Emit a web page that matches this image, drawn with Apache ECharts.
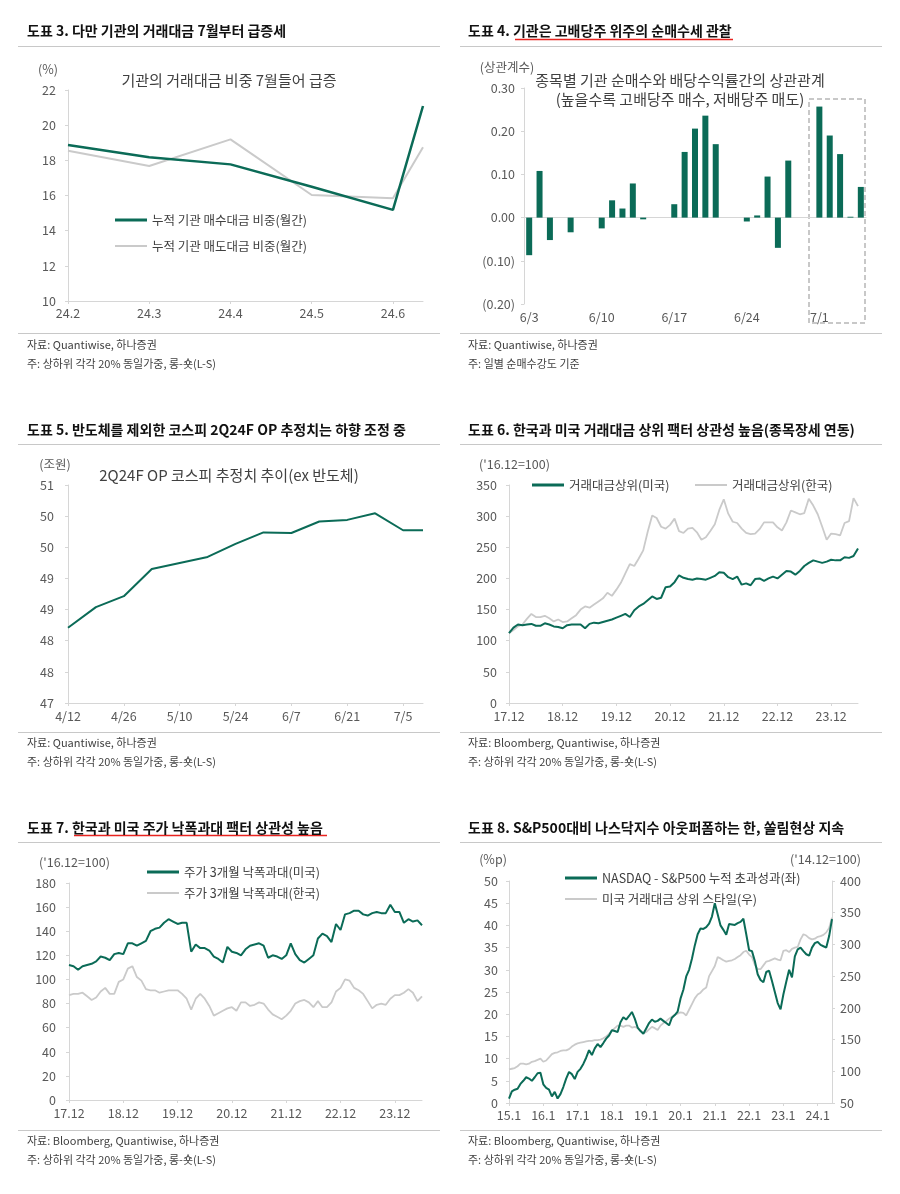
<!DOCTYPE html>
<html><head><meta charset="utf-8">
<script src="https://cdn.jsdelivr.net/npm/echarts@6.0.0/dist/echarts.min.js"></script>
<style>html,body{margin:0;padding:0;background:#fff}#c{width:900px;height:1194px}</style>
</head><body><div id="c"></div><script>
const FONT = "'Noto Sans CJK KR','Noto Sans',sans-serif";
const GREEN = '#0b6b57', GRAY = '#cacaca', AXIS = '#d6d6d6', LABEL = '#595959', TXT = '#404040';

// ---- Panel 3 ----
const p3Ticks = ['24.2','24.3','24.4','24.5','24.6'];
const p3Month = [0, 1, 2, 3, 4, 4.37];
const p3Buy  = [18.87, 18.17, 17.77, 16.5, 15.18, 21.09];
const p3Sell = [18.55, 17.68, 19.19, 16.03, 15.84, 18.74];

// ---- Panel 4 ----
const p4Start = '2024-06-03';
const p4Corr = [-0.087, 0.108, -0.052, null, -0.034, null, null,
  -0.025, 0.040, 0.021, 0.079, -0.004, null, null,
  0.031, 0.152, 0.206, 0.236, 0.170, null, null,
  -0.009, 0.005, 0.095, -0.070, 0.132, null, null,
  0.257, 0.190, 0.147, 0.002, 0.071];

// ---- Panel 5 ----
const p5Ticks = ['4/12','4/26','5/10','5/24','6/7','6/21','7/5'];
const p5Dates = ['2024-04-12','2024-04-19','2024-04-26','2024-05-03','2024-05-10','2024-05-17','2024-05-24',
  '2024-05-31','2024-06-07','2024-06-14','2024-06-21','2024-06-28','2024-07-05','2024-07-10'];
const p5OP = [48.38, 48.76, 48.96, 49.46, 49.57, 49.68, 49.92, 50.13, 50.12, 50.33, 50.36, 50.48, 50.17, 50.17];

// ---- Panel 6 (monthly 17.12 ~ 24.6) ----
const p6US = [112,121,126,125,126,127,124,124,128,126,123,122,120,125,126,126,126,120,127,129,
  128,130,132,134,137,140,143,138,149,155,159,165,171,167,169,186,187,194,205,201,
  199,198,200,199,198,201,204,210,209,202,199,203,190,192,189,199,200,196,200,203,
  200,206,212,211,206,212,220,225,229,227,225,227,230,229,229,234,233,236,248];
const p6KR = [112,117,123,126,135,143,138,138,140,136,131,134,130,131,136,141,150,155,153,158,
  163,168,177,172,182,193,208,223,220,232,245,275,301,297,283,280,286,296,276,273,
  280,281,274,262,266,276,287,310,327,304,291,289,280,273,271,272,279,290,290,290,
  282,277,290,309,306,303,305,328,317,303,283,262,272,271,269,289,292,329,316];

// ---- Panel 7 (monthly 17.12 ~ 24.6) ----
const p7US = [112,111,108,111,112,113,115,119,118,116,121,122,121,130,130,128,130,132,140,142,
  143,147,150,148,146,147,147,123,129,126,126,124,119,117,114,127,123,122,120,125,
  128,129,130,128,118,120,119,117,120,130,121,116,114,117,120,134,138,136,131,146,
  141,154,155,157,157,154,153,155,156,155,155,162,156,156,147,150,148,149,145];
const p7KR = [87,88,88,89,86,83,85,90,93,88,88,98,100,109,111,102,99,92,91,91,
  89,90,91,91,91,88,84,75,84,88,84,78,70,72,74,76,77,74,81,81,
  78,79,81,80,75,71,69,67,70,74,80,82,83,81,77,82,77,77,81,90,
  93,100,99,93,91,88,82,76,79,80,79,84,87,87,89,92,89,82,86];

// ---- Panel 8 (monthly 15.1 ~ 24.6) ----
const p8Excess = [1.0,2.6,3.0,3.2,4.3,5.0,5.8,5.5,5.0,5.8,6.7,6.8,4.2,3.4,3.0,1.5,2.5,1.0,2.0,3.6,
  5.5,7.0,6.5,5.4,7.0,7.7,8.8,10.2,11.9,10.8,12.3,13.3,12.6,13.5,14.5,15.2,16.4,16.2,16.0,18.2,
  19.3,18.8,19.6,20.5,19.0,17.0,16.2,15.6,16.8,18.0,18.8,18.3,18.5,19.0,18.5,18.0,17.5,19.2,19.8,20.6,
  23.5,25.5,28.5,30.0,32.5,35.5,38.0,39.3,39.2,39.6,40.4,42.0,45.0,42.5,40.0,39.0,37.9,40.3,40.2,40.1,
  40.5,40.8,41.5,38.0,34.4,34.2,32.0,29.0,27.7,27.2,29.5,29.8,27.5,25.0,22.5,21.1,24.5,27.3,30.0,28.3,
  33.0,34.6,35.0,34.2,33.5,33.2,35.0,36.0,36.3,35.6,35.3,35.0,37.6,41.4];
const p8Style = [103,104,105,108,112,112,111,112,115,116,118,120,115,117,122,127,129,130,132,133,
  133,135,139,142,144,145,146,147,148,148,149,149,150,152,155,159,164,168,172,172,
  170,172,172,169,170,168,164,160,162,166,170,168,165,172,176,179,183,186,189,191,
  193,192,188,197,206,215,221,224,229,232,250,258,266,280,278,275,273,274,275,277,
  280,283,288,290,284,280,268,261,261,267,273,274,276,278,276,275,290,291,288,293,
  295,296,308,316,314,310,308,309,312,313,315,319,326,342];

// ---- categories ----
function months(y, m, n) { const out = []; for (let i = 0; i < n; i++) { out.push(String(y % 100) + '.' + m); m++; if (m > 12) { m = 1; y++; } } return out; }
const p67Cats = months(2017, 12, p6US.length);
const p8Cats = months(2015, 1, p8Excess.length);
const p4Cats = p4Corr.map((_, i) => { const d = new Date(p4Start + 'T00:00:00Z'); d.setUTCDate(d.getUTCDate() + i); return (d.getUTCMonth() + 1) + '/' + d.getUTCDate(); });
const DAY = 86400000;
const p5X = p5Dates.map(s => (Date.parse(s) - Date.parse(p5Dates[0])) / DAY);

const lab = (extra) => Object.assign({ color: LABEL, fontSize: 12.5, fontFamily: FONT }, extra || {});
const axLine = { show: true, lineStyle: { color: AXIS, width: 1 } };
const tick = (extra) => Object.assign({ show: true, length: 3, lineStyle: { color: AXIS } }, extra || {});

function legend(name, x, cy, h) {
  return { data: [{ name: name, icon: 'rect' }], left: x, top: cy - 8, itemWidth: 32, itemHeight: h,
    padding: 0, selectedMode: false, textStyle: { fontSize: 12.5, color: TXT, fontFamily: FONT, lineHeight: 16 } };
}
function titleT(text, x, cy) {
  return { text: text, left: x, top: cy - 10, padding: 0,
    textStyle: { fontSize: 14, fontWeight: 'bold', color: '#111', fontFamily: FONT, lineHeight: 20 } };
}
function gText(text, x, y, size, align, color) {
  return { type: 'text', x: x, y: y, silent: true,
    style: { text: text, fontSize: size, fontFamily: FONT, fill: color || TXT, align: align || 'left', verticalAlign: 'middle' } };
}
function gLine(x1, y1, x2, y2, color, w) {
  return { type: 'line', silent: true, shape: { x1: x1, y1: y1, x2: x2, y2: y2 }, style: { stroke: color, lineWidth: w } };
}

const foot1 = '자료: Quantiwise, 하나증권';
const foot1b = '자료: Bloomberg, Quantiwise, 하나증권';
const foot2 = '주: 상하위 각각 20% 동일가중, 롱-숏(L-S)';
const FS = 11;

const graphics = [
  gLine(18, 46.5, 440, 46.5, '#c8c8c8', 1), gLine(460, 46.5, 882, 46.5, '#c8c8c8', 1),
  gLine(18, 333.5, 440, 333.5, '#c8c8c8', 1), gLine(460, 333.5, 882, 333.5, '#c8c8c8', 1),
  gLine(18, 444.5, 440, 444.5, '#c8c8c8', 1), gLine(460, 444.5, 882, 444.5, '#c8c8c8', 1),
  gLine(18, 732.5, 440, 732.5, '#c8c8c8', 1), gLine(460, 732.5, 882, 732.5, '#c8c8c8', 1),
  gLine(18, 842.5, 440, 842.5, '#c8c8c8', 1), gLine(460, 842.5, 882, 842.5, '#c8c8c8', 1),
  gLine(18, 1130.5, 440, 1130.5, '#c8c8c8', 1), gLine(460, 1130.5, 882, 1130.5, '#c8c8c8', 1),
  gLine(515, 39.5, 733, 39.5, '#e8231f', 1.5), gLine(74, 835.5, 327, 835.5, '#e8231f', 1.5),
  gText(foot1, 27, 345, FS), gText(foot2, 27, 364, FS),
  gText(foot1, 468, 345, FS), gText('주: 일별 순매수강도 기준', 468, 364, FS),
  gText(foot1, 27, 743, FS), gText(foot2, 27, 762, FS),
  gText(foot1b, 468, 743, FS), gText(foot2, 468, 762, FS),
  gText(foot1b, 27, 1141, FS), gText(foot2, 27, 1160, FS),
  gText(foot1b, 468, 1141, FS), gText(foot2, 468, 1160, FS),
  gText('기관의 거래대금 비중 7월들어 급증', 229, 80, 15, 'center'),
  gText('(%)', 48, 69, 12.5, 'center', LABEL),
  gText('(상관계수)', 507, 67, 12.5, 'center', LABEL),
  gText('종목별 기관 순매수와 배당수익률간의 상관관계', 680, 80, 15, 'center'),
  gText('(높을수록 고배당주 매수, 저배당주 매도)', 680, 99, 15, 'center'),
  { type: 'rect', silent: true, shape: { x: 809, y: 99, width: 56, height: 224 },
    style: { fill: 'none', stroke: '#c8c8c8', lineWidth: 2, lineDash: [5, 3] } },
  gText('(조원)', 55, 464, 12.5, 'center', LABEL),
  gText('2Q24F OP 코스피 추정치 추이(ex 반도체)', 229, 475, 15, 'center'),
  gText("('16.12=100)", 479, 464, 12.5, 'left', LABEL),
  gText("('16.12=100)", 39, 862, 12.5, 'left', LABEL),
  gText('(%p)', 493, 859, 12.5, 'center', LABEL),
  gText("('14.12=100)", 861, 859, 12.5, 'right', LABEL)
];

const option = {
  backgroundColor: '#fff',
  animation: false,
  textStyle: { fontFamily: FONT },
  title: [
    titleT('도표 3. 다만 기관의 거래대금 7월부터 급증세', 27, 31),
    titleT('도표 4. 기관은 고배당주 위주의 순매수세 관찰', 468, 31),
    titleT('도표 5. 반도체를 제외한 코스피 2Q24F OP 추정치는 하향 조정 중', 27, 430),
    titleT('도표 6. 한국과 미국 거래대금 상위 팩터 상관성 높음(종목장세 연동)', 468, 430),
    titleT('도표 7. 한국과 미국 주가 낙폭과대 팩터 상관성 높음', 27, 828),
    titleT('도표 8. S&P500대비 나스닥지수 아웃퍼폼하는 한, 쏠림현상 지속', 468, 828)
  ],
  legend: [
    legend('누적 기관 매수대금 비중(월간)', 115, 220, 3),
    legend('누적 기관 매도대금 비중(월간)', 115, 246, 2),
    legend('거래대금상위(미국)', 532, 485, 3),
    legend('거래대금상위(한국)', 695, 485, 2),
    legend('주가 3개월 낙폭과대(미국)', 147, 872, 3),
    legend('주가 3개월 낙폭과대(한국)', 147, 893, 2),
    legend('NASDAQ - S&P500 누적 초과성과(좌)', 565, 878, 3),
    legend('미국 거래대금 상위 스타일(우)', 565, 899, 2)
  ],
  grid: [
    { left: 68, top: 90, width: 355, height: 211 },
    { left: 524, top: 88, width: 342, height: 216 },
    { left: 68, top: 485, width: 355, height: 218 },
    { left: 509, top: 485, width: 349, height: 218 },
    { left: 69, top: 883, width: 353, height: 217 },
    { left: 509, top: 881, width: 323, height: 222 }
  ],
  xAxis: [
    { gridIndex: 0, type: 'value', min: 0, max: 4.37, interval: 1, splitLine: { show: false },
      axisLine: axLine, axisTick: tick(), axisLabel: lab({ margin: 6, showMaxLabel: false,
        formatter: v => Math.abs(v - Math.round(v)) < 1e-6 ? (p3Ticks[Math.round(v)] || '') : '' }) },
    { gridIndex: 1, type: 'category', data: p4Cats, axisLine: { show: false, onZero: false }, axisTick: { show: false },
      axisLabel: lab({ interval: 6, margin: 7 }) },
    { gridIndex: 1, type: 'category', data: p4Cats, axisLine: { show: true, onZero: true, lineStyle: { color: AXIS } },
      axisTick: { show: false }, axisLabel: { show: false } },
    { gridIndex: 2, type: 'value', min: 0, max: 89, interval: 14, splitLine: { show: false },
      axisLine: axLine, axisTick: tick(), axisLabel: lab({ margin: 7, showMaxLabel: false,
        formatter: v => (v % 14 === 0 ? (p5Ticks[v / 14] || '') : '') }) },
    { gridIndex: 3, type: 'category', data: p67Cats, boundaryGap: false, axisLine: axLine,
      axisTick: tick({ interval: 11 }), axisLabel: lab({ interval: 11, margin: 7 }) },
    { gridIndex: 4, type: 'category', data: p67Cats, boundaryGap: false, axisLine: axLine,
      axisTick: tick({ interval: 11 }), axisLabel: lab({ interval: 11, margin: 7 }) },
    { gridIndex: 5, type: 'category', data: p8Cats, boundaryGap: false, axisLine: axLine,
      axisTick: tick({ interval: 11 }), axisLabel: lab({ interval: 11, margin: 6 }) }
  ],
  yAxis: [
    { gridIndex: 0, type: 'value', min: 10, max: 22, interval: 2, splitLine: { show: false },
      axisLine: axLine, axisTick: tick(), axisLabel: lab({ margin: 12 }) },
    { gridIndex: 1, type: 'value', min: -0.2, max: 0.3, interval: 0.1, splitLine: { show: false },
      axisLine: axLine, axisTick: tick(), axisLabel: lab({ margin: 9,
        formatter: v => (v < -1e-9 ? '(' + Math.abs(v).toFixed(2) + ')' : Math.abs(v).toFixed(2)) }) },
    { gridIndex: 2, type: 'value', min: 47, max: 51, interval: 4 / 7, splitLine: { show: false },
      axisLine: axLine, axisTick: tick(), axisLabel: lab({ margin: 14, formatter: v => String(Math.round(v)) }) },
    { gridIndex: 3, type: 'value', min: 0, max: 350, interval: 50, splitLine: { show: false },
      axisLine: axLine, axisTick: tick(), axisLabel: lab({ margin: 12 }) },
    { gridIndex: 4, type: 'value', min: 0, max: 180, interval: 20, splitLine: { show: false },
      axisLine: axLine, axisTick: tick(), axisLabel: lab({ margin: 13 }) },
    { gridIndex: 5, type: 'value', min: 0, max: 50, interval: 5, splitLine: { show: false },
      axisLine: axLine, axisTick: tick(), axisLabel: lab({ margin: 11 }) },
    { gridIndex: 5, type: 'value', position: 'right', min: 50, max: 400, interval: 50, splitLine: { show: false },
      axisLine: axLine, axisTick: tick(), axisLabel: lab({ margin: 8 }) }
  ],
  series: [
    { name: '누적 기관 매도대금 비중(월간)', type: 'line', xAxisIndex: 0, yAxisIndex: 0, symbol: 'none', color: GRAY,
      lineStyle: { width: 2, color: GRAY }, data: p3Month.map((m, i) => [m, p3Sell[i]]) },
    { name: '누적 기관 매수대금 비중(월간)', type: 'line', xAxisIndex: 0, yAxisIndex: 0, symbol: 'none', color: GREEN,
      lineStyle: { width: 2.5, color: GREEN }, data: p3Month.map((m, i) => [m, p3Buy[i]]) },
    { name: '상관계수', type: 'bar', xAxisIndex: 1, yAxisIndex: 1, barWidth: 6, color: GREEN,
      itemStyle: { color: GREEN }, data: p4Corr },
    { name: '2Q24F OP', type: 'line', xAxisIndex: 3, yAxisIndex: 2, symbol: 'none', color: GREEN,
      lineStyle: { width: 2, color: GREEN }, data: p5X.map((x, i) => [x, p5OP[i]]) },
    { name: '거래대금상위(한국)', type: 'line', xAxisIndex: 4, yAxisIndex: 3, symbol: 'none', color: GRAY,
      lineStyle: { width: 1.8, color: GRAY }, data: p6KR },
    { name: '거래대금상위(미국)', type: 'line', xAxisIndex: 4, yAxisIndex: 3, symbol: 'none', color: GREEN,
      lineStyle: { width: 2, color: GREEN }, data: p6US },
    { name: '주가 3개월 낙폭과대(한국)', type: 'line', xAxisIndex: 5, yAxisIndex: 4, symbol: 'none', color: GRAY,
      lineStyle: { width: 1.8, color: GRAY }, data: p7KR },
    { name: '주가 3개월 낙폭과대(미국)', type: 'line', xAxisIndex: 5, yAxisIndex: 4, symbol: 'none', color: GREEN,
      lineStyle: { width: 2, color: GREEN }, data: p7US },
    { name: '미국 거래대금 상위 스타일(우)', type: 'line', xAxisIndex: 6, yAxisIndex: 6, symbol: 'none', color: GRAY,
      lineStyle: { width: 1.8, color: GRAY }, data: p8Style },
    { name: 'NASDAQ - S&P500 누적 초과성과(좌)', type: 'line', xAxisIndex: 6, yAxisIndex: 5, symbol: 'none', color: GREEN,
      lineStyle: { width: 2, color: GREEN }, data: p8Excess }
  ],
  graphic: graphics
};
const chart = echarts.init(document.getElementById('c'), null, { renderer: 'canvas' });
chart.setOption(option);
</script></body></html>
